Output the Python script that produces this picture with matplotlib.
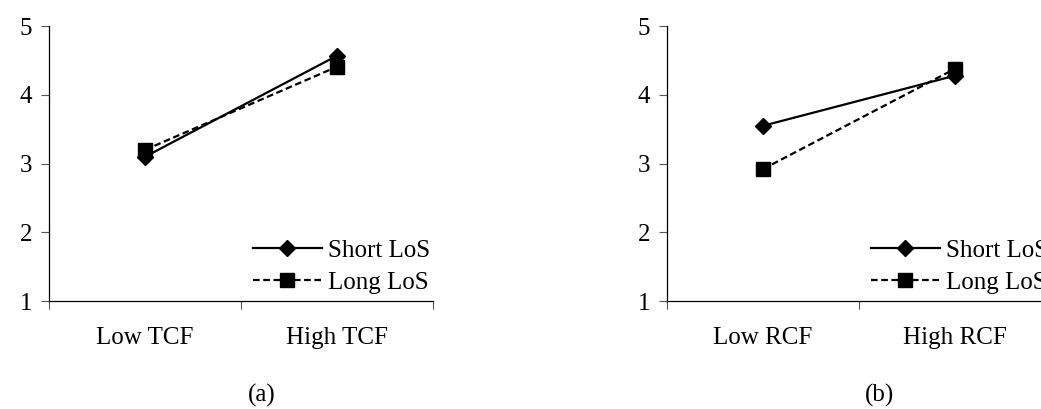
import matplotlib
matplotlib.use("Agg")
import matplotlib.pyplot as plt
import numpy as np

plt.rcParams['font.family'] = ['Liberation Serif', 'DejaVu Serif']

series = ["Short LoS", "Long LoS"]
cats_a = ["Low TCF", "High TCF"]
cats_b = ["Low RCF", "High RCF"]
short_a = [3.10, 4.57]
long_a = [3.20, 4.41]
short_b = [3.55, 4.28]
long_b = [2.92, 4.38]
panel_labels = ["(a)", "(b)"]

fig = plt.figure(figsize=(10.41, 4.09), dpi=100)
ax_a = fig.add_axes([0.0471, 0.264, 0.3689, 0.672])
ax_b = fig.add_axes([0.6407, 0.264, 0.3689, 0.672])


def draw(ax, cats, short, long_, label):
    x = np.arange(len(cats)) + 0.5
    ax.plot(x, short, color='black', lw=1.6, ls='-', marker='D', ms=8.5,
            label=series[0])
    ax.plot(x, long_, color='black', lw=1.6, ls=(0, (3, 1.6)), marker='s', ms=10,
            label=series[1])
    ax.set_xlim(0, 2)
    ax.set_ylim(1, 5)
    ax.set_yticks([1, 2, 3, 4, 5])
    ax.set_xticks([0, 1, 2])
    ax.set_xticklabels([])
    ax.set_xticks(x, minor=True)
    ax.set_xticklabels(cats, minor=True)
    ax.tick_params(axis='x', which='minor', length=0, pad=19, labelsize=18)
    ax.tick_params(axis='x', which='major', length=6, direction='out', width=0.8,
                   color='#555555')
    ax.tick_params(axis='y', length=6, direction='out', width=0.8, pad=6,
                   labelsize=18, color='#555555')
    for s in ['top', 'right']:
        ax.spines[s].set_visible(False)
    ax.spines['left'].set_linewidth(0.9)
    ax.spines['bottom'].set_linewidth(0.9)
    ax.legend(loc='lower left', bbox_to_anchor=(0.53, 0.025), frameon=False,
              fontsize=18, handlelength=2.76, handletextpad=0.24,
              labelspacing=0.4, borderpad=0, borderaxespad=0)
    ax.text(0.5 + 21 / 384, -0.345, label, transform=ax.transAxes, ha='center',
            va='center', fontsize=18)


draw(ax_a, cats_a, short_a, long_a, panel_labels[0])
draw(ax_b, cats_b, short_b, long_b, panel_labels[1])

fig.savefig("out.png", dpi=100)
